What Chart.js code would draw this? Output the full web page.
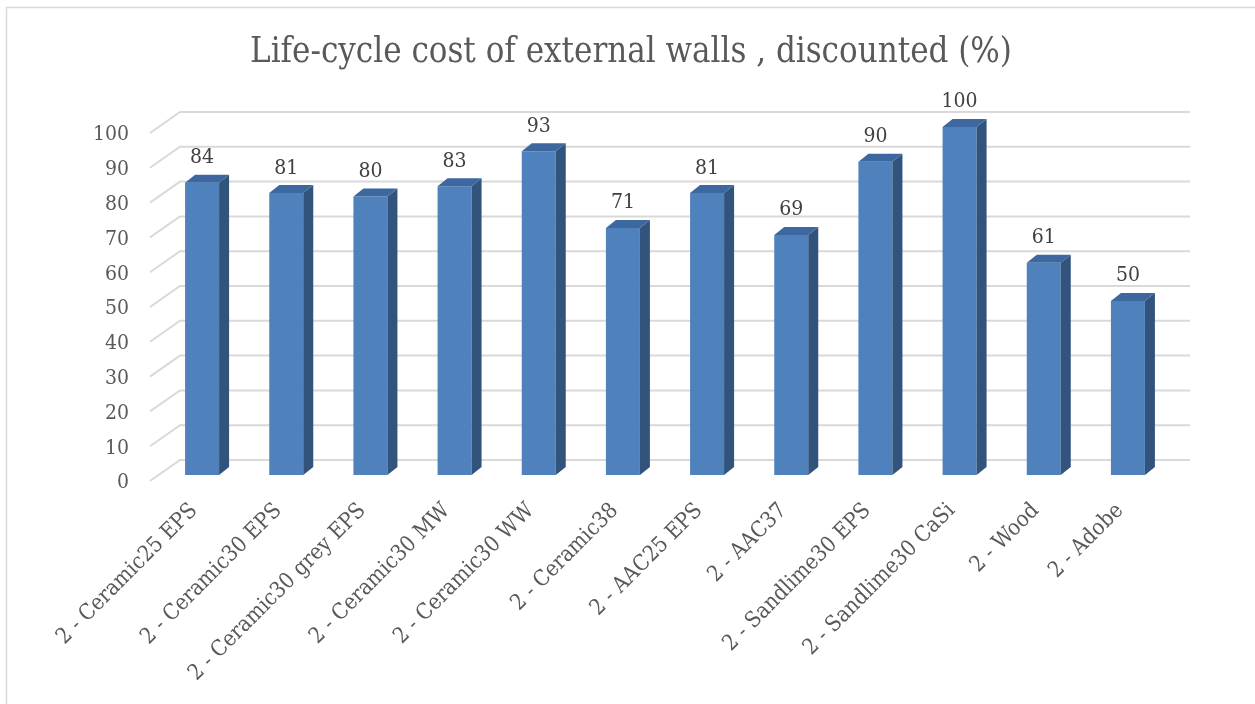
<!DOCTYPE html>
<html>
<head>
<meta charset="utf-8">
<script src="https://cdn.jsdelivr.net/npm/chart.js@4.4.1/dist/chart.umd.min.js"></script>
<style>
  html, body { margin: 0; padding: 0; background: #fff; }
  #wrap { width: 1255px; height: 704px; }
</style>
</head>
<body>
<div id="wrap"><canvas id="chart-lcc" width="1255" height="704"></canvas></div>
<script>
const CATEGORIES = [
  '2 - Ceramic25 EPS', '2 - Ceramic30 EPS', '2 - Ceramic30 grey EPS',
  '2 - Ceramic30 MW', '2 - Ceramic30 WW', '2 - Ceramic38',
  '2 - AAC25 EPS', '2 - AAC37', '2 - Sandlime30 EPS',
  '2 - Sandlime30 CaSi', '2 - Wood', '2 - Adobe',
];
const LCC_VALUES = [84, 81, 80, 83, 93, 71, 81, 69, 90, 100, 61, 50];
const Y_TICKS = [0, 10, 20, 30, 40, 50, 60, 70, 80, 90, 100];
const TITLE = 'Life-cycle cost of external walls , discounted (%)';

const FONT = "'DejaVu Serif Condensed', 'DejaVu Serif', serif";
const FRONT = '#4f81bd';
const SIDE = '#31537c';
const TOP = '#3d679f';
const GRID = '#d9d9d9';
const DEPTH = { dx: 10, dy: -8 };   // bar side/top depth
const WALL = { dx: 30, dy: -21 };   // floor front edge -> back wall

// frame, title, back-wall grid and 3d bar faces
const wallGrid = {
  id: 'wallGrid',
  beforeDraw(chart) {
    const ctx = chart.ctx;
    ctx.save();
    ctx.strokeStyle = GRID;
    ctx.lineWidth = 1.5;
    ctx.strokeRect(6.5, 7.5, 1300, 800);
    ctx.fillStyle = '#595959';
    ctx.font = '34.5px ' + FONT;
    ctx.textAlign = 'center';
    ctx.textBaseline = 'middle';
    ctx.fillText(TITLE, 631, 53);
    ctx.restore();
  },
  beforeDatasetsDraw(chart) {
    const { ctx, chartArea, scales } = chart;
    const x0 = chartArea.left - 10;
    ctx.save();
    ctx.strokeStyle = GRID;
    ctx.lineWidth = 2;
    Y_TICKS.forEach(v => {
      const py = scales.y.getPixelForValue(v) + 6;
      ctx.beginPath();
      ctx.moveTo(x0, py);
      ctx.lineTo(x0 + WALL.dx, py + WALL.dy);
      ctx.lineTo(chartArea.right + 20, py + WALL.dy);
      ctx.stroke();
    });
    ctx.restore();
  },
  afterDatasetsDraw(chart) {
    const ctx = chart.ctx;
    const meta = chart.getDatasetMeta(0);
    ctx.save();
    meta.data.forEach((bar, i) => {
      const l = bar.x - bar.width / 2;
      const r = bar.x + bar.width / 2;
      const t = bar.y;
      const b = bar.base;
      // side face
      ctx.fillStyle = SIDE;
      ctx.beginPath();
      ctx.moveTo(r, b);
      ctx.lineTo(r + DEPTH.dx, b + DEPTH.dy);
      ctx.lineTo(r + DEPTH.dx, t + DEPTH.dy);
      ctx.lineTo(r, t);
      ctx.closePath();
      ctx.fill();
      // top face
      ctx.fillStyle = TOP;
      ctx.beginPath();
      ctx.moveTo(l, t);
      ctx.lineTo(r, t);
      ctx.lineTo(r + DEPTH.dx, t + DEPTH.dy);
      ctx.lineTo(l + DEPTH.dx, t + DEPTH.dy);
      ctx.closePath();
      ctx.fill();
      // value label
      ctx.fillStyle = '#404040';
      ctx.font = '21px ' + FONT;
      ctx.textAlign = 'center';
      ctx.textBaseline = 'middle';
      ctx.fillText(LCC_VALUES[i], bar.x, t - 25);
    });
    ctx.restore();
  },
};

new Chart(document.getElementById('chart-lcc'), {
  type: 'bar',
  data: {
    labels: CATEGORIES,
    datasets: [{
      data: LCC_VALUES,
      backgroundColor: FRONT,
      borderWidth: 0,
      barPercentage: 0.404,
      categoryPercentage: 1,
    }],
  },
  options: {
    responsive: false,
    animation: false,
    layout: { padding: { left: 0, right: 85, top: 127, bottom: 0 } },
    plugins: {
      legend: { display: false },
      tooltip: { enabled: false },
      title: { display: false },
    },
    scales: {
      x: {
        grid: { display: false, drawTicks: false },
        border: { display: false },
        ticks: {
          color: '#595959',
          font: { family: FONT, size: 22 },
          minRotation: 45,
          maxRotation: 45,
          autoSkip: false,
          padding: 23,
          labelOffset: -8,
        },
        afterFit(scale) { scale.height = 229; },
      },
      y: {
        min: 0,
        max: 100,
        grid: { display: false, drawTicks: false },
        border: { display: false },
        afterBuildTicks(scale) { scale.ticks = Y_TICKS.map(v => ({ value: v })); },
        ticks: {
          color: '#595959',
          font: { family: FONT, size: 21 },
          padding: 31,
          labelOffset: 8,
        },
        afterFit(scale) { scale.width = 160; },
      },
    },
  },
  plugins: [wallGrid],
});
</script>
</body>
</html>
